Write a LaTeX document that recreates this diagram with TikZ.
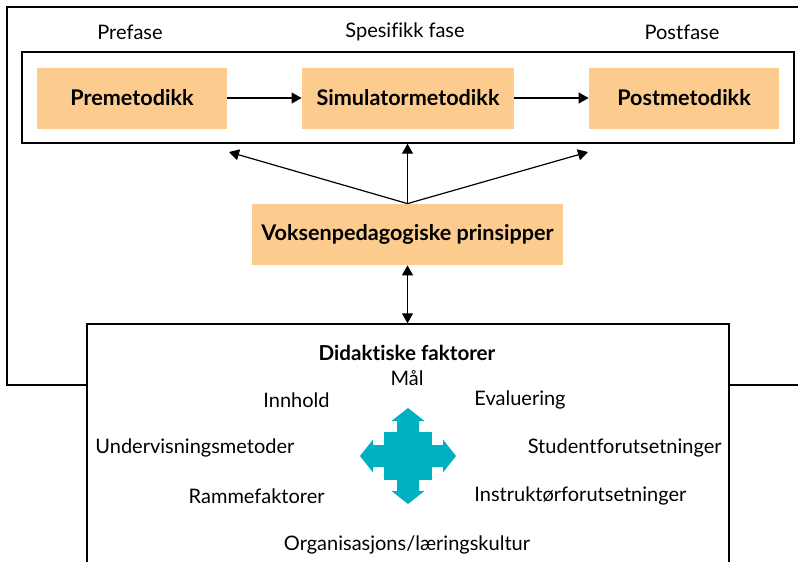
\documentclass[tikz,border=0pt]{standalone}
\usepackage{fontspec}
\setmainfont{Lato}[Ligatures=NoCommon]
\usetikzlibrary{arrows.meta}
\definecolor{fasegul}{RGB}{252,203,142}
\definecolor{korsblaa}{RGB}{0,176,192}
\tikzset{
  metode/.style={fill=fasegul, minimum height=30.5pt, inner sep=0pt,
    font=\bfseries\fontsize{10.8}{12}\selectfont},
  ramme/.style={draw, line width=0.7pt, inner sep=0pt},
  pil/.style={-{Triangle[length=5pt,width=5.5pt]}, line width=0.6pt},
  dobbelpil/.style={{Triangle[length=5pt,width=5.5pt]}-{Triangle[length=5pt,width=5.5pt]}, line width=0.6pt},
  faktor/.style={font=\fontsize{10}{12}\selectfont, inner sep=0pt},
}

\begin{document}
\begin{tikzpicture}[x=0.5pt,y=-0.5pt]
\clip (0,0) rectangle (798,562);
% ytre ramme
\draw[line width=0.7pt] (7,7) rectangle (840,385);

% faser
\node[faktor] (prefase) at (130,32) {Prefase};
\node[faktor] (spesfase) at (405,32) {Spesifikk fase};
\node[faktor] (postfase) at (682,32) {Postfase};
\node[ramme, minimum width=386pt, minimum height=45.5pt] (fase) at (408,97.5) {};
\node[metode, minimum width=95pt] (pre) at (132,98) {Premetodikk};
\node[metode, minimum width=106pt] (sim) at (408,98) {Simulatormetodikk};
\node[metode, minimum width=95pt] (post) at (684,98) {Postmetodikk};
\draw[pil] (pre) -- (sim);
\draw[pil] (sim) -- (post);

% prinsipper
\node[metode, minimum width=155.5pt] (voks) at (407.5,234.5) {Voksenpedagogiske prinsipper};
\coordinate (venstre) at (229,152);
\coordinate (hoyre) at (588,152);
\draw[pil] (voks.north) -- (venstre);
\draw[pil] (voks.north) -- (hoyre);
\draw[pil] (voks.north) -- (voks.north |- fase.south);

% didaktiske faktorer
\node[ramme, fill=white, minimum width=321pt, minimum height=150pt] (didak) at (408,474) {};
\draw[dobbelpil] (voks.south) -- (voks.south |- didak.north);
\node[faktor, font=\bfseries\fontsize{10.3}{12}\selectfont] (tittel) at (407,353) {Didaktiske faktorer};
\node[faktor] (maal) at (407,378) {Mål};
\node[faktor, anchor=east] (innhold) at (330,400) {Innhold};
\node[faktor, anchor=west] (evaluering) at (474,400) {Evaluering};
\node[faktor, anchor=west] (metoder) at (95,448) {Undervisningsmetoder};
\node[faktor, anchor=east] (student) at (722,448) {Studentforutsetninger};
\node[faktor, anchor=east] (rammer) at (325,496) {Rammefaktorer};
\node[faktor, anchor=west] (instruktor) at (474,496) {Instruktørforutsetninger};
\node[faktor] (kultur) at (407,545) {Organisasjons/læringskultur};

% kors
\fill[korsblaa] (384,432) rectangle (432,480);
\foreach \v in {0,90,180,270}
  \fill[korsblaa, shift={(408,456)}, rotate=\v]
    (-11,-23) -- (-11,-35) -- (-16.5,-35) -- (0,-48) -- (16.5,-35) -- (11,-35) -- (11,-23) -- cycle;
\end{tikzpicture}
\end{document}
